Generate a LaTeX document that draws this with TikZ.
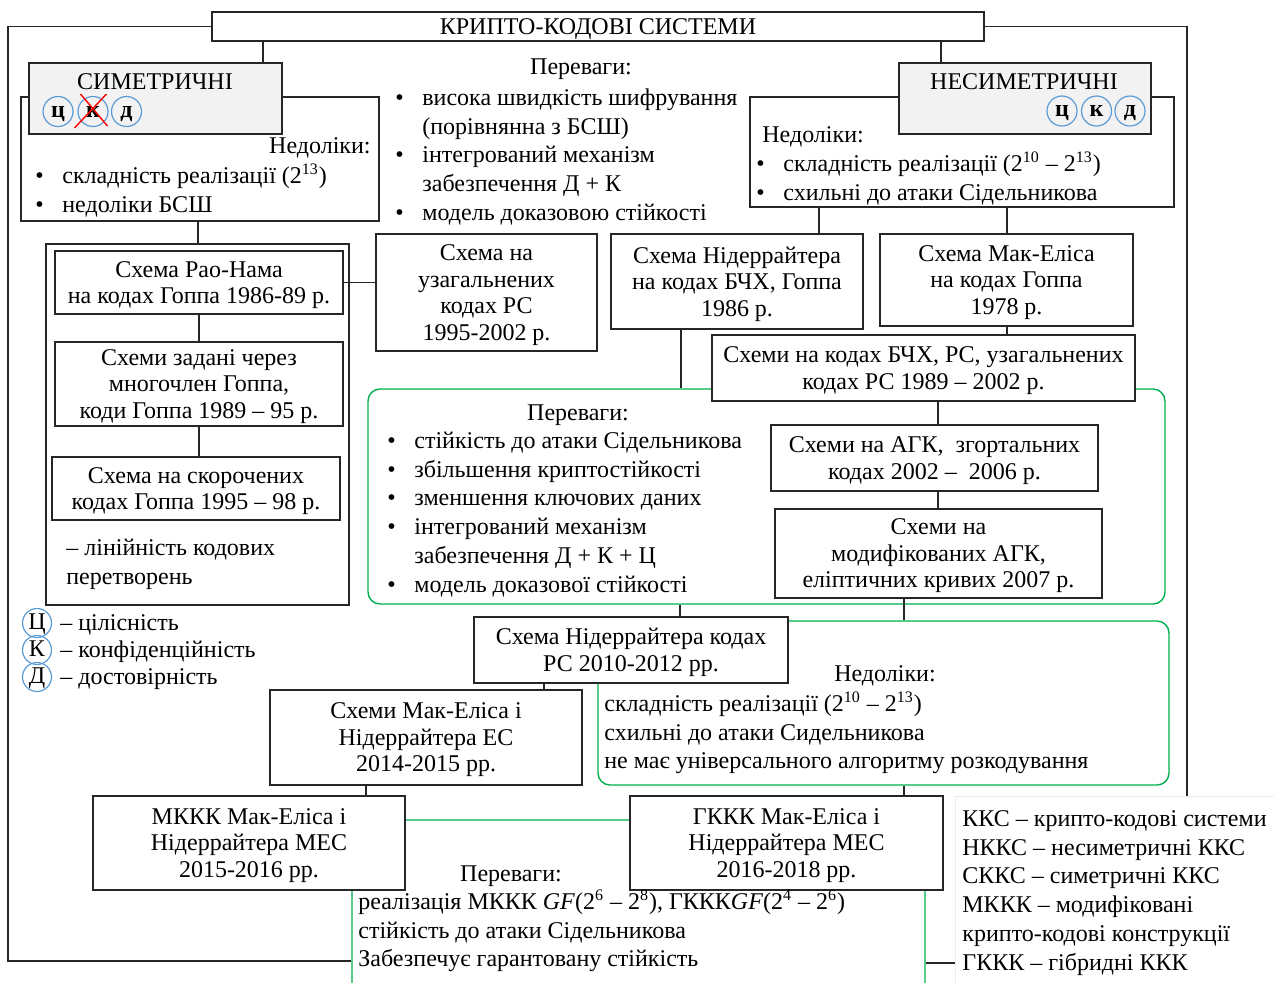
\documentclass[tikz,border=0pt]{standalone}
\usepackage{fontspec}
\setmainfont{Liberation Serif}
\usepackage{tikz}

\definecolor{grn}{RGB}{0,176,80}
\definecolor{blu}{RGB}{91,155,213}
\definecolor{gry}{RGB}{242,242,242}
\newcommand{\bul}{\makebox[13.5pt][l]{•}}
\newcommand{\nobul}{\makebox[13.5pt]{}}

\begin{document}
\begin{tikzpicture}[
						x=0.5pt, y=-0.5pt, % one unit = one pixel of the sketch
						every node/.style={font=\fontsize{12}{14.35}\selectfont, inner sep=0pt},
						blk/.style={draw=black!85, fill=white, align=center, line width=0.7pt,
								font=\fontsize{12}{13.25}\selectfont, text depth=0pt},
						shade/.style={draw=black!85, fill=gry, line width=0.7pt},
						grnbox/.style={draw=grn, rounded corners=6pt, line width=0.7pt},
						lst/.style={align=left, anchor=north west},
						hdr/.style={anchor=base},
						crc/.style={circle, draw=blu, line width=0.6pt, minimum size=15pt,
								text height=5.5pt, text depth=0pt,
								font=\fontsize{12}{14.35}\selectfont\bfseries},
						con/.style={draw=black!85, line width=0.7pt}
				]
    \useasboundingbox (0,0) rectangle (1274,982);
    \clip (0,0) rectangle (1274,982);

    % green frames first, boxes are laid over them
    \node[grnbox, minimum width=398.5pt, minimum height=107.5pt] (pros1) at (766.5,496.5) {};
    \node[grnbox, minimum width=285.5pt, minimum height=82pt] (cons2) at (883.5,703) {};
    \node[grnbox, minimum width=286.5pt, minimum height=90pt] (pros3) at (638.5,910) {};
    \node[draw=gray!15, minimum width=170pt, minimum height=110pt] (lgd) at (1125,906) {};

    \node[blk, minimum width=179pt, minimum height=62pt] (consL) at (200,159) {};
    \node[blk, minimum width=212pt, minimum height=55pt] (consR) at (962,152) {};
    \node[shade, minimum width=126.5pt, minimum height=35.5pt] (sym) at (155.5,98.5) {};
    \node[shade, minimum width=126pt, minimum height=35.5pt] (asym) at (1025,98.5) {};
    \node[blk, minimum width=386pt, minimum height=14.5pt, text height=7.5pt] (title) at (598,26.5) {КРИПТО-КОДОВІ СИСТЕМИ};

    \node[hdr] (symT) at (155,89) {СИМЕТРИЧНІ};
    \node[crc] (c1) at (58,111.5) {ц};
    \node[crc] (k1) at (93,111.5) {к};
    \node[crc] (d1) at (126.5,111.5) {д};
    \node[hdr] (asymT) at (1024,89) {НЕСИМЕТРИЧНІ};
    \node[crc] (c2) at (1062,111) {ц};
    \node[crc] (k2) at (1096.5,111) {к};
    \node[crc] (d2) at (1130,111) {д};
    \draw[red, line width=0.7pt] ([shift={(-18.5,16.5)}]k1.center) -- ([shift={(13.5,-17.5)}]k1.center);
    \draw[red, line width=0.7pt] ([shift={(-12.5,-17.5)}]k1.center) -- ([shift={(14.5,14.5)}]k1.center);

    \node[hdr, anchor=base east] (consLT) at (371,153) {Недоліки:};
    \node[lst] (consLL) at (35,163) {\strut\bul складність реалізації (2\textsuperscript{13})\\\bul недоліки БСШ};
    \node[hdr, anchor=base west] (consRT) at (762,142) {Недоліки:};
    \node[lst] (consRL) at (756,151) {\strut\bul складність реалізації (2\textsuperscript{10} – 2\textsuperscript{13})\\\bul схильні до атаки Сідельникова};
    \node[hdr] (prosT) at (581,74) {Переваги:};
    \node[lst] (prosL) at (395,85) {\strut\bul висока швидкість шифрування\\\nobul (порівнянна з БСШ)\\\bul інтегрований механізм\\\nobul забезпечення Д + К\\\bul модель доказовою стійкості};

    % left column
    \node[blk, minimum width=151.5pt, minimum height=180.5pt] (leftC) at (197.5,424.5) {};
    \node[blk, minimum width=144pt, minimum height=31.5pt] (raonam) at (199,282.5) {Схема Рао-Нама\\на кодах Гоппа 1986-89 р.};
    \node[blk, minimum width=144pt, minimum height=42pt] (zadani) at (199,384) {Схеми задані через\\многочлен Гоппа,\\коди Гоппа 1989 – 95 р.};
    \node[blk, minimum width=144pt, minimum height=31.5pt] (skoroch) at (196,488.5) {Схема на скорочених\\кодах Гоппа 1995 – 98 р.};
    \node[lst] (linear) at (66,535) {\strut– лінійність кодових\\перетворень};

    \node[blk, minimum width=110.5pt, minimum height=58.5pt] (uzag) at (486.5,292.5) {Схема на\\узагальнених\\кодах РС\\1995-2002 р.};
    \node[blk, minimum width=126pt, minimum height=47.5pt] (nieder) at (737,281.5) {Схема Нідеррайтера\\на кодах БЧХ, Гоппа\\1986 р.};
    \node[blk, minimum width=126.5pt, minimum height=46pt] (mceliece) at (1006.5,280) {Схема Мак-Еліса\\на кодах Гоппа\\1978 р.};
    \node[blk, minimum width=211.5pt, minimum height=33pt] (bch) at (923.5,368) {Схеми на кодах БЧХ, РС, узагальнених\\кодах РС 1989 – 2002 р.};

    \node[hdr] (pros1T) at (578,420) {Переваги:};
    \node[lst] (pros1L) at (387,428) {\strut\bul стійкість до атаки Сідельникова\\\bul збільшення криптостійкості\\\bul зменшення ключових даних\\\bul інтегрований механізм\\\nobul забезпечення Д + К + Ц\\\bul модель доказової стійкості};
    \node[blk, minimum width=163.5pt, minimum height=33pt] (agk) at (934.5,458) {Схеми на АГК,\ \ згортальних\\кодах 2002 –\ \ 2006 р.};
    \node[blk, minimum width=163.5pt, minimum height=44.5pt] (modagk) at (938.5,553.5) {Схеми на\\модифікованих АГК,\\еліптичних кривих 2007 р.};

    \node[blk, minimum width=157pt, minimum height=33pt] (niedRS) at (631,650) {Схема Нідеррайтера кодах\\РС 2010-2012 рр.};
    \node[hdr] (cons2T) at (885,681) {Недоліки:};
    \node[lst] (cons2L) at (604,691) {\strut складність реалізації (2\textsuperscript{10} – 2\textsuperscript{13})\\схильні до атаки Сидельникова\\не має універсального алгоритму розкодування};
    \node[blk, minimum width=156pt, minimum height=47.5pt] (ec) at (426,737.5) {Схеми Мак-Еліса і\\Нідеррайтера ЕС\\2014-2015 рр.};

    \node[blk, minimum width=156pt, minimum height=47pt] (mkkk) at (249,843) {МККК Мак-Еліса і\\Нідеррайтера МЕС\\2015-2016 рр.};
    \node[blk, minimum width=156.5pt, minimum height=47pt] (gkkk) at (786.5,843) {ГККК Мак-Еліса і\\Нідеррайтера МЕС\\2016-2018 рр.};
    \node[hdr] (pros3T) at (511,881) {Переваги:};
    \node[lst] (pros3L) at (358,889) {\strut реалізація МККК \textit{GF}(2\textsuperscript{6} – 2\textsuperscript{8}), ГККК\textit{GF}(2\textsuperscript{4} – 2\textsuperscript{6})\\стійкість до атаки Сідельникова\\Забезпечує гарантовану стійкість};

    % legends
    \node[crc, font=\fontsize{12}{14.35}\selectfont, minimum size=14.5pt, text height=6pt] (lgC) at (37,623) {Ц};
    \node[crc, font=\fontsize{12}{14.35}\selectfont, minimum size=14.5pt, text height=6pt] (lgK) at (37,650) {К};
    \node[crc, font=\fontsize{12}{14.35}\selectfont, minimum size=14.5pt, text height=6pt] (lgD) at (37,677) {Д};
    \node[hdr, anchor=base west] (lgCT) at (60,630) {– цілісність};
    \node[hdr, anchor=base west] (lgKT) at (60,657) {– конфіденційність};
    \node[hdr, anchor=base west] (lgDT) at (60,684) {– достовірність};
    \node[lst] (lgdL) at (962,806) {\strut ККС – крипто-кодові системи\\НККС – несиметричні ККС\\СККС – симетричні ККС\\МККК – модифіковані\\крипто-кодові конструкції\\ГККК – гібридні ККК};

    % connectors
    \draw[con] (263,0 |- title.south) -- (263,0 |- sym.north);
    \draw[con] (941,0 |- title.south) -- (941,0 |- asym.north);
    \draw[con] (title.west) -| (8,961) -- (pros3.west |- 0,961);
    \draw[con] (title.east) -| (lgd.north -| 1187,0);
    \draw[con] (198,0 |- consL.south) -- (198,0 |- leftC.north);
    \draw[con] (819,0 |- consR.south) -- (819,0 |- nieder.north);
    \draw[con] (1007,0 |- consR.south) -- (1007,0 |- mceliece.north);
    \draw[con] (raonam.south) -- (raonam.south |- zadani.north);
    \draw[con] (zadani.south) -- (zadani.south |- skoroch.north);
    \draw[con] (raonam.east) -- (raonam.east -| uzag.west);
    \draw[con] (681,0 |- nieder.south) -- (681,0 |- pros1.north);
    \draw[con] (1007,0 |- mceliece.south) -- (1007,0 |- bch.north);
    \draw[con] (938,0 |- bch.south) -- (938,0 |- agk.north);
    \draw[con] (938,0 |- agk.south) -- (938,0 |- modagk.north);
    \draw[con] (680,0 |- pros1.south) -- (680,0 |- niedRS.north);
    \draw[con] (904,0 |- modagk.south) -- (904,0 |- cons2.north);
    \draw[con] (544,0 |- niedRS.south) -- (544,0 |- ec.north);
    \draw[con] (366,0 |- ec.south) -- (366,0 |- mkkk.north);
    \draw[con] (904,0 |- cons2.south) -- (904,0 |- gkkk.north);
    \draw[con] (pros3.east |- 0,963) -- (lgd.west |- 0,963);

  \end{tikzpicture}
\end{document}
